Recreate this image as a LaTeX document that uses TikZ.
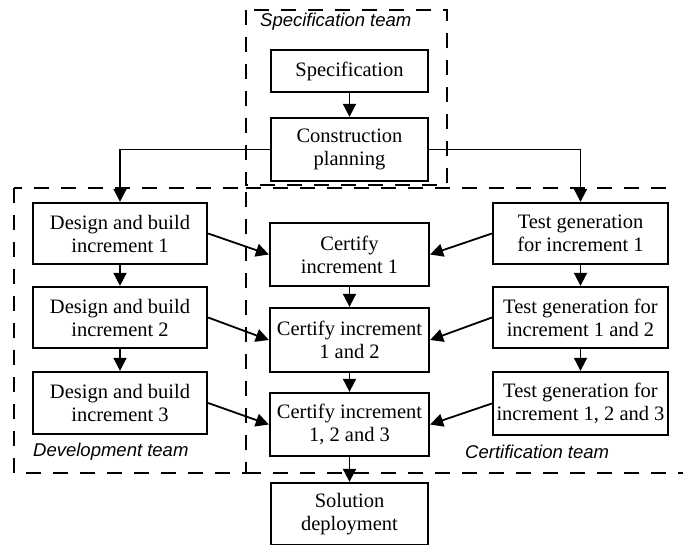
\documentclass[tikz,border=0pt]{standalone}
\usepackage{fontspec}
\setmainfont{Liberation Serif}
\newfontfamily\teamfont{Liberation Sans}
\usetikzlibrary{arrows.meta}
\begin{document}
\begin{tikzpicture}[x=1pt,y=-1pt,
  box/.style={draw,line width=2.3pt,inner sep=0pt,align=center,
    font=\fontsize{20.5}{23}\selectfont},
  arr/.style={line width=1.8pt,-{Triangle[length=13pt,width=13pt]}},
  team/.style={line width=1.8pt,dash pattern=on 15pt off 12pt},
  lbl/.style={anchor=west,inner sep=0pt,
    font=\teamfont\itshape\fontsize{18.5}{22}\selectfont}]
\useasboundingbox (0,0) rectangle (683,544);

% team regions
\draw[team] (246,10) rectangle (447,185);
\draw[team] (14,188) rectangle (246,473);
\draw[team] (246,188) -- (668,188);
\draw[team] (246,473) -- (683,473);

\node[lbl] (lspec) at (260,22) {Specification team};
\node[lbl] (ldev) at (33,452) {Development team};
\node[lbl] (lcert) at (465,452) {Certification team};

% nodes
\node[box,minimum width=157pt,minimum height=42pt] (spec) at (349.5,71) {Specification};
\node[box,minimum width=157pt,minimum height=63pt] (cp) at (349.5,149.5) {Construction\\planning};

\node[box,minimum width=174pt,minimum height=61pt] (d1) at (120,233.5) {Design and build\\increment 1};
\node[box,minimum width=174pt,minimum height=61pt] (d2) at (120,317.5) {Design and build\\increment 2};
\node[box,minimum width=174pt,minimum height=62pt] (d3) at (120,403) {Design and build\\increment 3};

\node[box,minimum width=159pt,minimum height=63pt] (c1) at (349.5,254.5) {Certify\\increment 1};
\node[box,minimum width=159pt,minimum height=64pt] (c2) at (349.5,340) {Certify increment\\1 and 2};
\node[box,minimum width=159pt,minimum height=63pt] (c3) at (349.5,424.5) {Certify increment\\1, 2 and 3};

\node[box,minimum width=175pt,minimum height=61pt] (t1) at (580.5,233.5) {Test generation\\for increment 1};
\node[box,minimum width=175pt,minimum height=61pt] (t2) at (580.5,317.5) {Test generation for\\increment 1 and 2};
\node[box,minimum width=175pt,minimum height=63pt] (t3) at (580.5,403.5) {Test generation for\\increment 1, 2 and 3};

\node[box,minimum width=157pt,minimum height=62pt] (sol) at (349.5,514) {Solution\\deployment};

% connectors
\draw[arr] (spec) -- (cp);
\draw[arr] (cp.west) -| (d1.north);
\draw[arr] (cp.east) -| (t1.north);
\draw[arr] (d1) -- (d2);
\draw[arr] (d2) -- (d3);
\draw[arr] (c1) -- (c2);
\draw[arr] (c2) -- (c3);
\draw[arr] (c3) -- (sol);
\draw[arr] (t1) -- (t2);
\draw[arr] (t2) -- (t3);
\draw[arr] (d1.east) -- (c1.west);
\draw[arr] (d2.east) -- (c2.west);
\draw[arr] (d3.east) -- (c3.west);
\draw[arr] (t1.west) -- (c1.east);
\draw[arr] (t2.west) -- (c2.east);
\draw[arr] (t3.west) -- (c3.east);
\end{tikzpicture}
\end{document}
